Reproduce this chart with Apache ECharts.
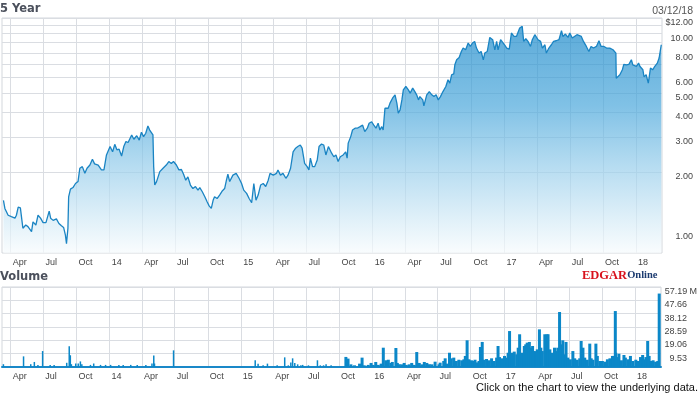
<!DOCTYPE html>
<html><head><meta charset="utf-8">
<script src="https://cdn.jsdelivr.net/npm/echarts@6/dist/echarts.min.js"></script>
<style>html,body{margin:0;padding:0;background:#fff}#c{width:700px;height:395px}</style>
</head><body><div id="c"></div>
<script>
const priceDates = [
'2013-03-12','2013-03-16','2013-03-25','2013-04-03','2013-04-13','2013-04-17','2013-04-22','2013-04-28','2013-05-01','2013-05-05',
'2013-05-13','2013-05-19','2013-05-29','2013-06-02','2013-06-10','2013-06-16','2013-06-23','2013-06-30','2013-07-08','2013-07-17',
'2013-07-21','2013-07-28','2013-08-06','2013-08-13','2013-08-20','2013-08-26','2013-08-31','2013-09-03','2013-09-07','2013-09-09',
'2013-09-14','2013-09-21','2013-09-28','2013-10-05','2013-10-10','2013-10-17','2013-10-24','2013-10-30','2013-11-07','2013-11-14',
'2013-11-20','2013-11-30','2013-12-09','2013-12-16','2013-12-23','2014-01-02','2014-01-09','2014-01-15','2014-01-21','2014-01-27',
'2014-02-03','2014-02-09','2014-02-15','2014-02-21','2014-03-03','2014-03-09','2014-03-17','2014-03-24','2014-03-30','2014-04-05',
'2014-04-11','2014-04-17','2014-04-22','2014-04-26','2014-05-01','2014-05-03','2014-05-06','2014-05-11','2014-05-15','2014-05-20',
'2014-05-29','2014-06-07','2014-06-14','2014-06-21','2014-06-27','2014-07-05','2014-07-12','2014-07-19','2014-07-25','2014-07-31',
'2014-08-06','2014-08-13','2014-08-20','2014-08-27','2014-09-03','2014-09-08','2014-09-15','2014-09-22','2014-09-28','2014-10-04',
'2014-10-10','2014-10-15','2014-10-19','2014-10-26','2014-11-02','2014-11-10','2014-11-16','2014-11-21','2014-11-25','2014-11-30',
'2014-12-09','2014-12-18','2014-12-26','2015-01-02','2015-01-08','2015-01-16','2015-01-23','2015-01-30','2015-02-05','2015-02-11',
'2015-02-17','2015-02-24','2015-03-03','2015-03-10','2015-03-17','2015-03-22','2015-03-31','2015-04-09','2015-04-13','2015-04-20',
'2015-04-27','2015-05-05','2015-05-11','2015-05-18','2015-05-25','2015-06-01','2015-06-07','2015-06-14','2015-06-19','2015-06-26',
'2015-07-03','2015-07-08','2015-07-12','2015-07-18','2015-07-24','2015-07-31','2015-08-05','2015-08-12','2015-08-18','2015-08-24',
'2015-08-31','2015-09-04','2015-09-09','2015-09-15','2015-09-21','2015-09-27','2015-10-03','2015-10-11','2015-10-18','2015-10-22',
'2015-10-25','2015-11-01','2015-11-06','2015-11-13','2015-11-19','2015-11-27','2015-12-04','2015-12-10','2015-12-17','2015-12-22',
'2015-12-29','2016-01-04','2016-01-10','2016-01-16','2016-01-21','2016-01-26','2016-01-30','2016-02-04','2016-02-09','2016-02-13',
'2016-02-18','2016-02-25','2016-03-03','2016-03-08','2016-03-12','2016-03-17','2016-03-22','2016-03-26','2016-04-02','2016-04-09',
'2016-04-14','2016-04-21','2016-04-27','2016-05-02','2016-05-07','2016-05-11','2016-05-19','2016-05-22','2016-05-30','2016-06-06',
'2016-06-13','2016-06-19','2016-06-25','2016-07-01','2016-07-07','2016-07-14','2016-07-22','2016-07-28','2016-08-02','2016-08-07',
'2016-08-13','2016-08-16','2016-08-21','2016-08-28','2016-09-03','2016-09-08','2016-09-15','2016-09-22','2016-09-28','2016-10-04',
'2016-10-10','2016-10-15','2016-10-22','2016-10-28','2016-11-03','2016-11-07','2016-11-14','2016-11-21','2016-11-29','2016-12-05',
'2016-12-10','2016-12-14','2016-12-21','2016-12-26','2017-01-02','2017-01-07','2017-01-14','2017-01-20','2017-01-27','2017-02-03',
'2017-02-07','2017-02-12','2017-02-19','2017-02-23','2017-03-01','2017-03-07','2017-03-14','2017-03-19','2017-03-26','2017-03-30',
'2017-04-04','2017-04-11','2017-04-16','2017-04-23','2017-04-27','2017-05-04','2017-05-11','2017-05-17','2017-05-24','2017-06-01',
'2017-06-08','2017-06-12','2017-06-19','2017-06-26','2017-07-01','2017-07-08','2017-07-14','2017-07-21','2017-07-26','2017-08-02',
'2017-08-08','2017-08-16','2017-08-23','2017-08-29','2017-09-05','2017-09-13','2017-09-20','2017-09-26','2017-10-04','2017-10-11',
'2017-10-20','2017-10-29','2017-11-06','2017-11-07','2017-11-12','2017-11-17','2017-11-24','2017-11-28','2017-12-05','2017-12-12',
'2017-12-19','2017-12-23','2018-01-02','2018-01-08','2018-01-12','2018-01-20','2018-01-23','2018-01-29','2018-02-04','2018-02-10',
'2018-02-16','2018-02-22','2018-03-01','2018-03-06','2018-03-12'
];
const priceValues = [
1.44,1.31,1.21,1.19,1.17,1.21,1.33,1.32,1.19,1.04,
1.08,1.06,1.00,1.12,1.08,1.21,1.17,1.11,1.11,1.27,
1.17,1.14,1.16,1.10,1.07,1.05,0.96,0.87,1.04,1.50,
1.64,1.67,1.75,1.79,2.09,2.13,1.97,2.09,2.17,2.32,
2.20,2.17,2.05,2.05,2.44,2.69,2.53,2.76,2.59,2.61,
2.41,2.69,2.85,2.82,3.08,2.93,3.05,2.90,3.18,3.02,
3.14,3.42,3.26,3.20,3.08,2.13,1.72,1.79,1.82,2.01,
2.09,2.17,2.26,2.21,2.26,2.17,2.05,2.06,1.95,1.82,
1.89,1.72,1.65,1.69,1.62,1.67,1.59,1.50,1.42,1.35,
1.31,1.44,1.50,1.47,1.53,1.61,1.65,1.82,1.95,1.79,
1.93,1.97,1.86,1.75,1.62,1.56,1.47,1.40,1.75,1.44,
1.53,1.72,1.75,1.69,1.82,1.97,1.93,1.97,2.05,1.93,
1.97,1.86,1.93,2.09,2.53,2.64,2.69,2.74,2.64,2.21,
2.13,2.05,2.35,2.13,2.13,2.30,2.69,2.77,2.74,2.44,
2.69,2.64,2.49,2.39,2.44,2.26,2.39,2.44,2.53,2.35,
2.80,3.02,3.26,3.33,3.33,3.39,3.45,3.20,3.33,3.53,
3.59,3.45,3.33,3.53,3.26,3.39,3.26,4.20,4.28,4.20,
4.46,4.72,4.91,4.46,3.97,4.12,4.63,5.20,5.41,5.20,
5.01,5.31,5.10,4.91,4.63,4.81,4.63,4.32,4.91,5.10,
4.91,4.81,4.91,4.63,4.81,5.10,5.41,5.85,5.63,6.20,
6.27,6.96,7.38,7.58,8.13,8.46,8.29,8.97,8.62,8.97,
9.14,8.46,7.98,8.13,7.38,7.98,8.13,9.57,9.32,8.29,
9.14,8.29,9.32,9.43,8.72,8.46,8.36,10.08,9.68,9.68,
9.50,10.68,10.88,9.14,9.43,9.14,8.62,9.32,9.88,10.08,
9.32,9.14,8.46,8.79,7.98,8.46,8.79,9.14,9.21,9.32,
10.35,9.68,9.96,9.57,10.08,9.50,9.68,9.88,9.96,9.68,
9.14,8.62,8.13,8.62,8.46,8.62,9.21,8.62,8.62,8.46,
8.46,8.29,7.98,5.96,6.06,6.20,6.57,7.00,6.96,7.00,
7.38,6.96,6.83,7.10,6.83,6.57,6.06,6.20,5.63,6.70,
6.57,6.83,7.10,7.53,8.79
];
const volumeDates = [
'2013-03-14','2013-05-09','2013-05-29','2013-06-08','2013-06-18','2013-07-01','2013-07-22','2013-08-02','2013-09-06','2013-09-13',
'2013-09-16','2013-09-19','2013-10-01','2013-10-08','2013-10-14','2013-10-18','2013-11-11','2013-11-20','2013-12-09','2013-12-23',
'2014-01-06','2014-01-29','2014-02-10','2014-03-03','2014-03-21','2014-04-14','2014-05-01','2014-05-06','2014-05-08','2014-06-30',
'2015-02-12','2015-02-20','2015-03-06','2015-03-18','2015-04-14','2015-05-05','2015-05-15','2015-05-22','2015-05-27','2015-06-02',
'2015-06-10','2015-06-19','2015-06-24','2015-07-10','2015-08-04','2015-08-12','2015-08-21','2015-08-28','2015-09-11','2015-10-20',
'2015-10-26','2015-11-03','2015-11-13','2015-11-27','2015-12-04','2015-12-10','2015-12-21','2015-12-29','2016-01-04','2016-01-11',
'2016-01-18','2016-01-26','2016-02-01','2016-02-08','2016-02-15','2016-02-22','2016-02-26','2016-03-07','2016-03-11','2016-03-16',
'2016-03-23','2016-03-30','2016-04-05','2016-04-13','2016-04-20','2016-04-27','2016-05-04','2016-05-11','2016-05-18','2016-05-25',
'2016-06-01','2016-06-08','2016-06-15','2016-06-24','2016-07-05','2016-07-08','2016-07-18','2016-07-22','2016-07-27','2016-08-03',
'2016-08-08','2016-08-15','2016-08-22','2016-08-29','2016-09-06','2016-09-12','2016-09-16','2016-09-21','2016-09-26','2016-10-03',
'2016-10-07','2016-10-13','2016-10-19','2016-10-24','2016-10-28','2016-11-02','2016-11-07','2016-11-14','2016-11-21','2016-11-28',
'2016-12-05','2016-12-12','2016-12-16','2016-12-20','2016-12-27','2017-01-03','2017-01-09','2017-01-13','2017-01-17','2017-01-23',
'2017-01-30','2017-02-06','2017-02-10','2017-02-14','2017-02-20','2017-02-27','2017-03-03','2017-03-07','2017-03-13','2017-03-17',
'2017-03-22','2017-03-27','2017-03-31','2017-04-04','2017-04-10','2017-04-14','2017-04-18','2017-04-25','2017-05-01','2017-05-04',
'2017-05-09','2017-05-15','2017-05-22','2017-05-26','2017-05-31','2017-06-05','2017-06-09','2017-06-14','2017-06-19','2017-06-23',
'2017-06-28','2017-07-05','2017-07-12','2017-07-17','2017-07-24','2017-07-31','2017-08-04','2017-08-09','2017-08-14','2017-08-21',
'2017-08-28','2017-09-01','2017-09-06','2017-09-14','2017-09-18','2017-09-25','2017-10-02','2017-10-09','2017-10-16','2017-10-23',
'2017-10-30','2017-11-01','2017-11-07','2017-11-08','2017-11-13','2017-11-17','2017-11-24','2017-12-01','2017-12-05','2017-12-12',
'2017-12-19','2017-12-26','2018-01-03','2018-01-10','2018-01-16','2018-01-22','2018-01-26','2018-01-31','2018-02-05','2018-02-09',
'2018-02-14','2018-02-20','2018-02-27','2018-03-05','2018-03-09'
];
const volumeValues = [
2.0,7.6,2.0,3.6,1.5,11.4,1.5,1.5,3.0,14.8,
8.4,2.0,2.5,2.5,4.0,2.0,1.5,2.5,1.5,1.5,
1.5,1.5,1.5,1.5,1.5,1.5,2.5,8.3,2.5,11.9,
4.8,2.4,1.2,2.4,1.2,6.9,1.2,3.3,6.2,2.9,
1.9,1.2,1.5,1.2,4.8,1.2,1.2,1.9,1.2,7.2,
6.0,1.9,1.2,2.4,6.7,1.2,1.5,2.9,1.5,3.6,
1.5,2.4,13.8,4.8,5.2,2.9,3.6,13.6,2.9,2.0,
1.9,2.9,1.5,1.9,2.9,1.5,10.7,2.9,1.9,3.6,
2.9,2.0,1.9,3.8,1.9,3.1,4.3,6.2,2.4,10.2,
6.2,6.7,4.3,5.2,4.8,5.5,7.9,19.1,5.5,4.8,
4.3,5.2,3.3,4.3,14.3,17.9,5.2,5.7,4.8,6.2,
4.3,6.7,15.0,7.1,6.2,7.9,6.7,10.2,25.7,10.2,
11.0,9.1,13.8,23.4,10.2,15.0,16.2,17.4,17.9,13.8,
15.0,11.4,11.0,12.6,26.9,13.8,11.4,23.4,23.4,23.4,
12.6,10.2,13.8,11.4,13.8,39.3,16.2,19.1,9.1,17.9,
6.7,5.5,11.4,6.2,5.2,6.2,18.6,13.8,6.7,5.2,
16.7,6.2,5.2,16.7,7.9,4.3,4.3,3.8,5.5,6.2,
7.9,7.9,40.0,10.2,7.1,9.5,4.8,8.6,6.7,5.5,
7.9,4.3,5.2,4.3,7.1,8.6,5.5,7.1,18.6,7.9,
4.3,4.8,3.8,4.3,52.5
];
const quarterTicks = ['2013-04-01','2013-07-01','2013-10-01','2014-01-01','2014-04-01','2014-07-01','2014-10-01','2015-01-01',
'2015-04-01','2015-07-01','2015-10-01','2016-01-01','2016-04-01','2016-07-01','2016-10-01','2017-01-01','2017-04-01','2017-07-01',
'2017-10-01','2018-01-01'];
const quarterLabels = ['Apr','Jul','Oct','14','Apr','Jul','Oct','15','Apr','Jul','Oct','16','Apr','Jul','Oct','17','Apr','Jul','Oct','18'];
const priceGridValues = [2,3,4,5,6,7,8,9,10,11,12];
const priceTickValues = [1,2,3,4,5,6,8,10,12];
const priceTickLabels = ['1.00','2.00','3.00','4.00','5.00','6.00','8.00','10.00','$12.00'];
const volumeTickValues = [9.53,19.06,28.59,38.12,47.66,57.19];
const volumeTickLabels = ['9.53','19.06','28.59','38.12','47.66','57.19'];
const denseVolumeFrom = '2015-10-01';

const tp = d => Date.UTC(+d.slice(0, 4), +d.slice(5, 7) - 1, +d.slice(8, 10));
const qTimes = quarterTicks.map(tp);
function nearest(arr, v) { let b = 0, bd = Infinity; arr.forEach((t, i) => { const d = Math.abs(t - v); if (d < bd) { bd = d; b = i; } }); return b; }
const xLabel = v => quarterLabels[nearest(qTimes, v)];
const FONT = '"Liberation Sans", Arial, sans-serif';
const GRIDC = '#dadde2';

const volumePairs = volumeDates.map((d, i) => [tp(d), volumeValues[i]]);
const volSparse = volumePairs.filter((p, i) => volumeDates[i] < denseVolumeFrom);
const volDense = volumePairs.filter((p, i) => volumeDates[i] >= denseVolumeFrom);

function xAxisCfg(gi, line) {
  return {
    type: 'value', gridIndex: gi, min: tp('2013-03-08'), max: tp('2018-03-14'),
    axisLine: line ? { show: true, onZero: false, lineStyle: { color: '#1a88c8', width: 2 } } : { show: false },
    axisTick: { show: false, customValues: qTimes },
    splitLine: { show: true, customValues: qTimes, lineStyle: { color: GRIDC, width: 1 } },
    axisLabel: { customValues: qTimes, formatter: xLabel, align: 'left', margin: 5, padding: [0, 0, 0, 2],
      fontSize: 9, fontFamily: FONT, color: '#444' }
  };
}

const chart = echarts.init(document.getElementById('c'), null, { renderer: 'canvas' });
chart.setOption({
  animation: false,
  backgroundColor: '#fff',
  grid: [
    { left: 2, top: 18, width: 660, height: 235, show: true, borderColor: '#d3d7dc', borderWidth: 1 },
    { left: 2, top: 287, width: 660, height: 80, show: true, borderColor: '#d3d7dc', borderWidth: 1 }
  ],
  xAxis: [xAxisCfg(0, false), xAxisCfg(1, true)],
  yAxis: [
    {
      type: 'log', gridIndex: 0, position: 'right', min: 0.78, max: 12,
      axisLine: { show: false }, minorTick: { show: false },
      axisTick: { show: false, customValues: priceGridValues },
      splitLine: { show: true, customValues: priceGridValues, lineStyle: { color: GRIDC, width: 1 } },
      axisLabel: { customValues: priceTickValues, formatter: v => priceTickLabels[nearest(priceTickValues, v)],
        align: 'right', verticalAlign: 'top', margin: 31, fontSize: 9, fontFamily: FONT, color: '#444' }
    },
    {
      type: 'value', gridIndex: 1, position: 'right', min: 0, max: 57.19,
      axisLine: { show: false },
      axisTick: { show: false, customValues: volumeTickValues },
      splitLine: { show: true, customValues: volumeTickValues, lineStyle: { color: GRIDC, width: 1 } },
      axisLabel: {
        customValues: volumeTickValues,
        formatter: v => { const i = nearest(volumeTickValues, v); return '{a|' + volumeTickLabels[i] + '}' + (i === volumeTickValues.length - 1 ? '{b| M}' : ''); },
        align: 'left', verticalAlign: 'top', margin: 4,
        rich: { a: { width: 22, align: 'right', fontSize: 9, fontFamily: FONT, color: '#444' }, b: { fontSize: 9, fontFamily: FONT, color: '#444' } }
      }
    }
  ],
  series: [
    {
      type: 'line', xAxisIndex: 0, yAxisIndex: 0, symbol: 'none', showSymbol: false,
      data: priceDates.map((d, i) => [tp(d), priceValues[i]]),
      lineStyle: { color: '#1a84c3', width: 1.3 },
      areaStyle: { origin: 'start', color: new echarts.graphic.LinearGradient(0, 0, 0, 1, [
        { offset: 0, color: '#1787c9' }, { offset: 0.35, color: '#4aa7db' }, { offset: 0.6, color: '#92cbea' },
        { offset: 0.85, color: '#d3eaf6' }, { offset: 1, color: '#f7fbfd' }]) }
    },
    {
      type: 'bar', xAxisIndex: 1, yAxisIndex: 1, barWidth: 1.5, barGap: '-100%',
      data: volSparse, itemStyle: { color: '#0b87c8' }
    },
    {
      type: 'bar', xAxisIndex: 1, yAxisIndex: 1, barWidth: 3, barGap: '-100%',
      data: volDense, itemStyle: { color: '#0b87c8' }
    }
  ],
  graphic: [
    { type: 'text', left: 0, top: 3, style: { text: '5 Year', font: 'bold 11.5px "DejaVu Sans"', fill: '#4b505c' } },
    { type: 'text', right: 7, top: 6, style: { text: '03/12/18', font: '10.5px "Liberation Sans"', fill: '#555' } },
    { type: 'text', left: 0, top: 271, style: { text: 'Volume', font: 'bold 11.5px "DejaVu Sans"', fill: '#4b505c' } },
    { type: 'text', left: 582, top: 269, style: { text: '{e|EDGAR}{o|Online}', rich: {
        e: { font: 'bold 12.5px "Liberation Serif"', fill: '#d8121c' },
        o: { font: 'bold 10.5px "Liberation Serif"', fill: '#1c3b70' } } } },
    { type: 'text', right: 2, top: 382, style: { text: 'Click on the chart to view the underlying data.', font: '11px "Liberation Sans"', fill: '#111' } }
  ]
});
</script></body></html>
